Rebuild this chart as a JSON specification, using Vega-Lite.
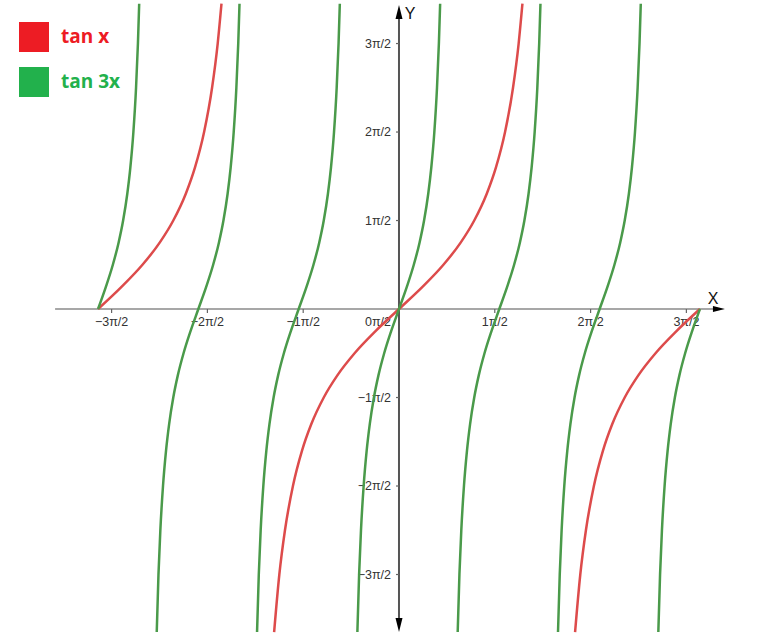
{
  "$schema": "https://vega.github.io/schema/vega-lite/v6.json",
  "width": 768,
  "height": 633,
  "padding": 0,
  "autosize": {"type": "fit", "contains": "padding"},
  "background": "white",
  "config": {"view": {"stroke": null}},
  "datasets": {
    "one": [{"k": 1}],
    "curves": [
      {"s":"tan x","b":"r1","x":-3.14159,"y":0},
      {"s":"tan x","b":"r1","x":-2.89661,"y":0.25},
      {"s":"tan x","b":"r1","x":-2.67794,"y":0.5},
      {"s":"tan x","b":"r1","x":-2.49809,"y":0.75},
      {"s":"tan x","b":"r1","x":-2.35619,"y":1},
      {"s":"tan x","b":"r1","x":-2.22649,"y":1.3},
      {"s":"tan x","b":"r1","x":-2.12939,"y":1.6},
      {"s":"tan x","b":"r1","x":-2.03444,"y":2},
      {"s":"tan x","b":"r1","x":-1.9513,"y":2.5},
      {"s":"tan x","b":"r1","x":-1.89254,"y":3},
      {"s":"tan x","b":"r1","x":-1.85292,"y":3.45},
      {"s":"tan x","b":"r2","x":-1.30339,"y":-3.65},
      {"s":"tan x","b":"r2","x":-1.24905,"y":-3},
      {"s":"tan x","b":"r2","x":-1.19029,"y":-2.5},
      {"s":"tan x","b":"r2","x":-1.10715,"y":-2},
      {"s":"tan x","b":"r2","x":-1.0122,"y":-1.6},
      {"s":"tan x","b":"r2","x":-0.9151,"y":-1.3},
      {"s":"tan x","b":"r2","x":-0.7854,"y":-1},
      {"s":"tan x","b":"r2","x":-0.6435,"y":-0.75},
      {"s":"tan x","b":"r2","x":-0.46365,"y":-0.5},
      {"s":"tan x","b":"r2","x":-0.24498,"y":-0.25},
      {"s":"tan x","b":"r2","x":0,"y":0},
      {"s":"tan x","b":"r2","x":0.24498,"y":0.25},
      {"s":"tan x","b":"r2","x":0.46365,"y":0.5},
      {"s":"tan x","b":"r2","x":0.6435,"y":0.75},
      {"s":"tan x","b":"r2","x":0.7854,"y":1},
      {"s":"tan x","b":"r2","x":0.9151,"y":1.3},
      {"s":"tan x","b":"r2","x":1.0122,"y":1.6},
      {"s":"tan x","b":"r2","x":1.10715,"y":2},
      {"s":"tan x","b":"r2","x":1.19029,"y":2.5},
      {"s":"tan x","b":"r2","x":1.24905,"y":3},
      {"s":"tan x","b":"r2","x":1.28867,"y":3.45},
      {"s":"tan x","b":"r3","x":1.8382,"y":-3.65},
      {"s":"tan x","b":"r3","x":1.89254,"y":-3},
      {"s":"tan x","b":"r3","x":1.9513,"y":-2.5},
      {"s":"tan x","b":"r3","x":2.03444,"y":-2},
      {"s":"tan x","b":"r3","x":2.12939,"y":-1.6},
      {"s":"tan x","b":"r3","x":2.22649,"y":-1.3},
      {"s":"tan x","b":"r3","x":2.35619,"y":-1},
      {"s":"tan x","b":"r3","x":2.49809,"y":-0.75},
      {"s":"tan x","b":"r3","x":2.67794,"y":-0.5},
      {"s":"tan x","b":"r3","x":2.89661,"y":-0.25},
      {"s":"tan x","b":"r3","x":3.14159,"y":0},

      {"s":"tan 3x","b":"g1","x":-3.14159,"y":0},
      {"s":"tan 3x","b":"g1","x":-3.05993,"y":0.25},
      {"s":"tan 3x","b":"g1","x":-2.98704,"y":0.5},
      {"s":"tan 3x","b":"g1","x":-2.92709,"y":0.75},
      {"s":"tan 3x","b":"g1","x":-2.87979,"y":1},
      {"s":"tan 3x","b":"g1","x":-2.83656,"y":1.3},
      {"s":"tan 3x","b":"g1","x":-2.80419,"y":1.6},
      {"s":"tan 3x","b":"g1","x":-2.77254,"y":2},
      {"s":"tan 3x","b":"g1","x":-2.74483,"y":2.5},
      {"s":"tan 3x","b":"g1","x":-2.72524,"y":3},
      {"s":"tan 3x","b":"g1","x":-2.71203,"y":3.45},

      {"s":"tan 3x","b":"g2","x":-2.52886,"y":-3.65},
      {"s":"tan 3x","b":"g2","x":-2.51075,"y":-3},
      {"s":"tan 3x","b":"g2","x":-2.49116,"y":-2.5},
      {"s":"tan 3x","b":"g2","x":-2.46345,"y":-2},
      {"s":"tan 3x","b":"g2","x":-2.4318,"y":-1.6},
      {"s":"tan 3x","b":"g2","x":-2.39943,"y":-1.3},
      {"s":"tan 3x","b":"g2","x":-2.3562,"y":-1},
      {"s":"tan 3x","b":"g2","x":-2.3089,"y":-0.75},
      {"s":"tan 3x","b":"g2","x":-2.24895,"y":-0.5},
      {"s":"tan 3x","b":"g2","x":-2.17606,"y":-0.25},
      {"s":"tan 3x","b":"g2","x":-2.0944,"y":0},
      {"s":"tan 3x","b":"g2","x":-2.01274,"y":0.25},
      {"s":"tan 3x","b":"g2","x":-1.93985,"y":0.5},
      {"s":"tan 3x","b":"g2","x":-1.8799,"y":0.75},
      {"s":"tan 3x","b":"g2","x":-1.8326,"y":1},
      {"s":"tan 3x","b":"g2","x":-1.78937,"y":1.3},
      {"s":"tan 3x","b":"g2","x":-1.757,"y":1.6},
      {"s":"tan 3x","b":"g2","x":-1.72535,"y":2},
      {"s":"tan 3x","b":"g2","x":-1.69764,"y":2.5},
      {"s":"tan 3x","b":"g2","x":-1.67805,"y":3},
      {"s":"tan 3x","b":"g2","x":-1.66484,"y":3.45},

      {"s":"tan 3x","b":"g3","x":-1.48166,"y":-3.65},
      {"s":"tan 3x","b":"g3","x":-1.46355,"y":-3},
      {"s":"tan 3x","b":"g3","x":-1.44396,"y":-2.5},
      {"s":"tan 3x","b":"g3","x":-1.41625,"y":-2},
      {"s":"tan 3x","b":"g3","x":-1.3846,"y":-1.6},
      {"s":"tan 3x","b":"g3","x":-1.35223,"y":-1.3},
      {"s":"tan 3x","b":"g3","x":-1.309,"y":-1},
      {"s":"tan 3x","b":"g3","x":-1.2617,"y":-0.75},
      {"s":"tan 3x","b":"g3","x":-1.20175,"y":-0.5},
      {"s":"tan 3x","b":"g3","x":-1.12886,"y":-0.25},
      {"s":"tan 3x","b":"g3","x":-1.0472,"y":0},
      {"s":"tan 3x","b":"g3","x":-0.96554,"y":0.25},
      {"s":"tan 3x","b":"g3","x":-0.89265,"y":0.5},
      {"s":"tan 3x","b":"g3","x":-0.8327,"y":0.75},
      {"s":"tan 3x","b":"g3","x":-0.7854,"y":1},
      {"s":"tan 3x","b":"g3","x":-0.74217,"y":1.3},
      {"s":"tan 3x","b":"g3","x":-0.7098,"y":1.6},
      {"s":"tan 3x","b":"g3","x":-0.67815,"y":2},
      {"s":"tan 3x","b":"g3","x":-0.65044,"y":2.5},
      {"s":"tan 3x","b":"g3","x":-0.63085,"y":3},
      {"s":"tan 3x","b":"g3","x":-0.61764,"y":3.45},

      {"s":"tan 3x","b":"g4","x":-0.43446,"y":-3.65},
      {"s":"tan 3x","b":"g4","x":-0.41635,"y":-3},
      {"s":"tan 3x","b":"g4","x":-0.39676,"y":-2.5},
      {"s":"tan 3x","b":"g4","x":-0.36905,"y":-2},
      {"s":"tan 3x","b":"g4","x":-0.3374,"y":-1.6},
      {"s":"tan 3x","b":"g4","x":-0.30503,"y":-1.3},
      {"s":"tan 3x","b":"g4","x":-0.2618,"y":-1},
      {"s":"tan 3x","b":"g4","x":-0.2145,"y":-0.75},
      {"s":"tan 3x","b":"g4","x":-0.15455,"y":-0.5},
      {"s":"tan 3x","b":"g4","x":-0.08166,"y":-0.25},
      {"s":"tan 3x","b":"g4","x":0,"y":0},
      {"s":"tan 3x","b":"g4","x":0.08166,"y":0.25},
      {"s":"tan 3x","b":"g4","x":0.15455,"y":0.5},
      {"s":"tan 3x","b":"g4","x":0.2145,"y":0.75},
      {"s":"tan 3x","b":"g4","x":0.2618,"y":1},
      {"s":"tan 3x","b":"g4","x":0.30503,"y":1.3},
      {"s":"tan 3x","b":"g4","x":0.3374,"y":1.6},
      {"s":"tan 3x","b":"g4","x":0.36905,"y":2},
      {"s":"tan 3x","b":"g4","x":0.39676,"y":2.5},
      {"s":"tan 3x","b":"g4","x":0.41635,"y":3},
      {"s":"tan 3x","b":"g4","x":0.42956,"y":3.45},

      {"s":"tan 3x","b":"g5","x":0.61274,"y":-3.65},
      {"s":"tan 3x","b":"g5","x":0.63085,"y":-3},
      {"s":"tan 3x","b":"g5","x":0.65044,"y":-2.5},
      {"s":"tan 3x","b":"g5","x":0.67815,"y":-2},
      {"s":"tan 3x","b":"g5","x":0.7098,"y":-1.6},
      {"s":"tan 3x","b":"g5","x":0.74217,"y":-1.3},
      {"s":"tan 3x","b":"g5","x":0.7854,"y":-1},
      {"s":"tan 3x","b":"g5","x":0.8327,"y":-0.75},
      {"s":"tan 3x","b":"g5","x":0.89265,"y":-0.5},
      {"s":"tan 3x","b":"g5","x":0.96554,"y":-0.25},
      {"s":"tan 3x","b":"g5","x":1.0472,"y":0},
      {"s":"tan 3x","b":"g5","x":1.12886,"y":0.25},
      {"s":"tan 3x","b":"g5","x":1.20175,"y":0.5},
      {"s":"tan 3x","b":"g5","x":1.2617,"y":0.75},
      {"s":"tan 3x","b":"g5","x":1.309,"y":1},
      {"s":"tan 3x","b":"g5","x":1.35223,"y":1.3},
      {"s":"tan 3x","b":"g5","x":1.3846,"y":1.6},
      {"s":"tan 3x","b":"g5","x":1.41625,"y":2},
      {"s":"tan 3x","b":"g5","x":1.44396,"y":2.5},
      {"s":"tan 3x","b":"g5","x":1.46355,"y":3},
      {"s":"tan 3x","b":"g5","x":1.47676,"y":3.45},

      {"s":"tan 3x","b":"g6","x":1.65994,"y":-3.65},
      {"s":"tan 3x","b":"g6","x":1.67805,"y":-3},
      {"s":"tan 3x","b":"g6","x":1.69764,"y":-2.5},
      {"s":"tan 3x","b":"g6","x":1.72535,"y":-2},
      {"s":"tan 3x","b":"g6","x":1.757,"y":-1.6},
      {"s":"tan 3x","b":"g6","x":1.78937,"y":-1.3},
      {"s":"tan 3x","b":"g6","x":1.8326,"y":-1},
      {"s":"tan 3x","b":"g6","x":1.8799,"y":-0.75},
      {"s":"tan 3x","b":"g6","x":1.93985,"y":-0.5},
      {"s":"tan 3x","b":"g6","x":2.01274,"y":-0.25},
      {"s":"tan 3x","b":"g6","x":2.0944,"y":0},
      {"s":"tan 3x","b":"g6","x":2.17606,"y":0.25},
      {"s":"tan 3x","b":"g6","x":2.24895,"y":0.5},
      {"s":"tan 3x","b":"g6","x":2.3089,"y":0.75},
      {"s":"tan 3x","b":"g6","x":2.3562,"y":1},
      {"s":"tan 3x","b":"g6","x":2.39943,"y":1.3},
      {"s":"tan 3x","b":"g6","x":2.4318,"y":1.6},
      {"s":"tan 3x","b":"g6","x":2.46345,"y":2},
      {"s":"tan 3x","b":"g6","x":2.49116,"y":2.5},
      {"s":"tan 3x","b":"g6","x":2.51075,"y":3},
      {"s":"tan 3x","b":"g6","x":2.52396,"y":3.45},

      {"s":"tan 3x","b":"g7","x":2.70713,"y":-3.65},
      {"s":"tan 3x","b":"g7","x":2.72524,"y":-3},
      {"s":"tan 3x","b":"g7","x":2.74483,"y":-2.5},
      {"s":"tan 3x","b":"g7","x":2.77254,"y":-2},
      {"s":"tan 3x","b":"g7","x":2.80419,"y":-1.6},
      {"s":"tan 3x","b":"g7","x":2.83656,"y":-1.3},
      {"s":"tan 3x","b":"g7","x":2.87979,"y":-1},
      {"s":"tan 3x","b":"g7","x":2.92709,"y":-0.75},
      {"s":"tan 3x","b":"g7","x":2.98704,"y":-0.5},
      {"s":"tan 3x","b":"g7","x":3.05993,"y":-0.25},
      {"s":"tan 3x","b":"g7","x":3.14159,"y":0}
    ],
    "xticks": [
      {"x":-3,"y":0,"t":"−3π/2"},
      {"x":-2,"y":0,"t":"−2π/2"},
      {"x":-1,"y":0,"t":"−1π/2"},
      {"x":0,"y":0,"t":"0π/2"},
      {"x":1,"y":0,"t":"1π/2"},
      {"x":2,"y":0,"t":"2π/2"},
      {"x":3,"y":0,"t":"3π/2"}
    ],
    "yticks": [
      {"x":0,"y":3,"t":"3π/2"},
      {"x":0,"y":2,"t":"2π/2"},
      {"x":0,"y":1,"t":"1π/2"},
      {"x":0,"y":-1,"t":"−1π/2"},
      {"x":0,"y":-2,"t":"−2π/2"},
      {"x":0,"y":-3,"t":"−3π/2"}
    ]
  },
  "layer": [
    {
      "data": {"name": "one"},
      "mark": {"type": "rule", "color": "#8a8a8a", "strokeWidth": 1.6},
      "encoding": {
        "x": {"datum": -3.59, "type": "quantitative", "scale": {"domain": [-4.165, 3.852], "nice": false, "zero": false}, "axis": null},
        "x2": {"datum": 3.3},
        "y": {"datum": 0, "type": "quantitative", "scale": {"domain": [-3.661, 3.492], "nice": false, "zero": false}, "axis": null}
      }
    },
    {
      "data": {"name": "one"},
      "mark": {"type": "rule", "color": "#555555", "strokeWidth": 2},
      "encoding": {
        "x": {"datum": 0, "type": "quantitative", "scale": {"domain": [-4.165, 3.852], "nice": false, "zero": false}, "axis": null},
        "y": {"datum": 3.3, "type": "quantitative", "scale": {"domain": [-3.661, 3.492], "nice": false, "zero": false}, "axis": null},
        "y2": {"datum": -3.5}
      }
    },
    {
      "data": {"name": "xticks"},
      "transform": [{"filter": "datum.x != 0"}],
      "mark": {"type": "point", "shape": "M0,0L0,1", "filled": false, "size": 64, "stroke": "#666666", "strokeWidth": 1.2, "opacity": 1},
      "encoding": {
        "x": {"field": "x", "type": "quantitative", "scale": {"domain": [-4.165, 3.852], "nice": false, "zero": false}, "axis": null},
        "y": {"field": "y", "type": "quantitative", "scale": {"domain": [-3.661, 3.492], "nice": false, "zero": false}, "axis": null}
      }
    },
    {
      "data": {"name": "yticks"},
      "mark": {"type": "point", "shape": "M0,0L-1,0", "filled": false, "size": 36, "stroke": "#666666", "strokeWidth": 1.2, "opacity": 1},
      "encoding": {
        "x": {"field": "x", "type": "quantitative", "scale": {"domain": [-4.165, 3.852], "nice": false, "zero": false}, "axis": null},
        "y": {"field": "y", "type": "quantitative", "scale": {"domain": [-3.661, 3.492], "nice": false, "zero": false}, "axis": null}
      }
    },
    {
      "data": {"name": "xticks"},
      "transform": [{"filter": "datum.x != 0"}],
      "mark": {"type": "text", "font": "Liberation Sans", "fontSize": 12.5, "color": "#333333", "align": "center", "baseline": "middle", "dy": 13},
      "encoding": {
        "x": {"field": "x", "type": "quantitative", "scale": {"domain": [-4.165, 3.852], "nice": false, "zero": false}, "axis": null},
        "y": {"field": "y", "type": "quantitative", "scale": {"domain": [-3.661, 3.492], "nice": false, "zero": false}, "axis": null},
        "text": {"field": "t"}
      }
    },
    {
      "data": {"name": "xticks"},
      "transform": [{"filter": "datum.x == 0"}],
      "mark": {"type": "text", "font": "Liberation Sans", "fontSize": 12.5, "color": "#333333", "align": "right", "baseline": "middle", "dy": 13, "dx": -8},
      "encoding": {
        "x": {"field": "x", "type": "quantitative", "scale": {"domain": [-4.165, 3.852], "nice": false, "zero": false}, "axis": null},
        "y": {"field": "y", "type": "quantitative", "scale": {"domain": [-3.661, 3.492], "nice": false, "zero": false}, "axis": null},
        "text": {"field": "t"}
      }
    },
    {
      "data": {"name": "yticks"},
      "mark": {"type": "text", "font": "Liberation Sans", "fontSize": 12.5, "color": "#333333", "align": "right", "baseline": "middle", "dx": -8},
      "encoding": {
        "x": {"field": "x", "type": "quantitative", "scale": {"domain": [-4.165, 3.852], "nice": false, "zero": false}, "axis": null},
        "y": {"field": "y", "type": "quantitative", "scale": {"domain": [-3.661, 3.492], "nice": false, "zero": false}, "axis": null},
        "text": {"field": "t"}
      }
    },
    {
      "data": {"name": "curves"},
      "mark": {"type": "line", "strokeWidth": 2.5, "clip": true, "interpolate": "monotone"},
      "encoding": {
        "x": {"field": "x", "type": "quantitative", "scale": {"domain": [-4.165, 3.852], "nice": false, "zero": false}, "axis": null},
        "y": {"field": "y", "type": "quantitative", "scale": {"domain": [-3.661, 3.492], "nice": false, "zero": false}, "axis": null},
        "detail": {"field": "b"},
        "color": {
          "field": "s", "type": "nominal",
          "scale": {"domain": ["tan x", "tan 3x"], "range": ["#DD4B4B", "#4A9A4A"]},
          "legend": {
            "title": null,
            "orient": "none",
            "legendX": 19,
            "legendY": 22,
            "symbolType": "square",
            "symbolSize": 900,
            "symbolStrokeWidth": 0,
            "labelFontSize": 19,
            "labelFontWeight": "bold",
            "labelFont": "Open Sans",
            "labelOffset": 12,
            "rowPadding": 15,
            "encode": {
              "symbols": {"update": {"fill": {"signal": "datum.label == 'tan x' ? '#ED1C24' : '#22B14C'"}, "stroke": {"value": "transparent"}, "opacity": {"value": 1}}},
              "labels": {"update": {"fill": {"signal": "datum.label == 'tan x' ? '#ED1C24' : '#22B14C'"}}}
            }
          }
        },
        "order": {"field": "x", "type": "quantitative"}
      }
    },
    {
      "data": {"name": "one"},
      "mark": {"type": "point", "shape": "M1,0L-1,-0.5L-1,0.5Z", "filled": true, "size": 144, "color": "#000000", "opacity": 1},
      "encoding": {
        "x": {"datum": 3.34, "type": "quantitative", "scale": {"domain": [-4.165, 3.852], "nice": false, "zero": false}, "axis": null},
        "y": {"datum": 0, "type": "quantitative", "scale": {"domain": [-3.661, 3.492], "nice": false, "zero": false}, "axis": null}
      }
    },
    {
      "data": {"name": "one"},
      "mark": {"type": "point", "shape": "M0,-1L0.5,1L-0.5,1Z", "filled": true, "size": 196, "color": "#000000", "opacity": 1},
      "encoding": {
        "x": {"datum": 0, "type": "quantitative", "scale": {"domain": [-4.165, 3.852], "nice": false, "zero": false}, "axis": null},
        "y": {"datum": 3.356, "type": "quantitative", "scale": {"domain": [-3.661, 3.492], "nice": false, "zero": false}, "axis": null}
      }
    },
    {
      "data": {"name": "one"},
      "mark": {"type": "point", "shape": "M0,1L0.5,-1L-0.5,-1Z", "filled": true, "size": 196, "color": "#000000", "opacity": 1},
      "encoding": {
        "x": {"datum": 0, "type": "quantitative", "scale": {"domain": [-4.165, 3.852], "nice": false, "zero": false}, "axis": null},
        "y": {"datum": -3.571, "type": "quantitative", "scale": {"domain": [-3.661, 3.492], "nice": false, "zero": false}, "axis": null}
      }
    },
    {
      "data": {"name": "one"},
      "mark": {"type": "text", "text": "X", "font": "Liberation Sans", "fontSize": 16, "color": "#111111", "align": "center", "baseline": "middle"},
      "encoding": {
        "x": {"datum": 3.278, "type": "quantitative", "scale": {"domain": [-4.165, 3.852], "nice": false, "zero": false}, "axis": null},
        "y": {"datum": 0.113, "type": "quantitative", "scale": {"domain": [-3.661, 3.492], "nice": false, "zero": false}, "axis": null}
      }
    },
    {
      "data": {"name": "one"},
      "mark": {"type": "text", "text": "Y", "font": "Liberation Sans", "fontSize": 16, "color": "#111111", "align": "center", "baseline": "middle"},
      "encoding": {
        "x": {"datum": 0.115, "type": "quantitative", "scale": {"domain": [-4.165, 3.852], "nice": false, "zero": false}, "axis": null},
        "y": {"datum": 3.333, "type": "quantitative", "scale": {"domain": [-3.661, 3.492], "nice": false, "zero": false}, "axis": null}
      }
    }
  ]
}
